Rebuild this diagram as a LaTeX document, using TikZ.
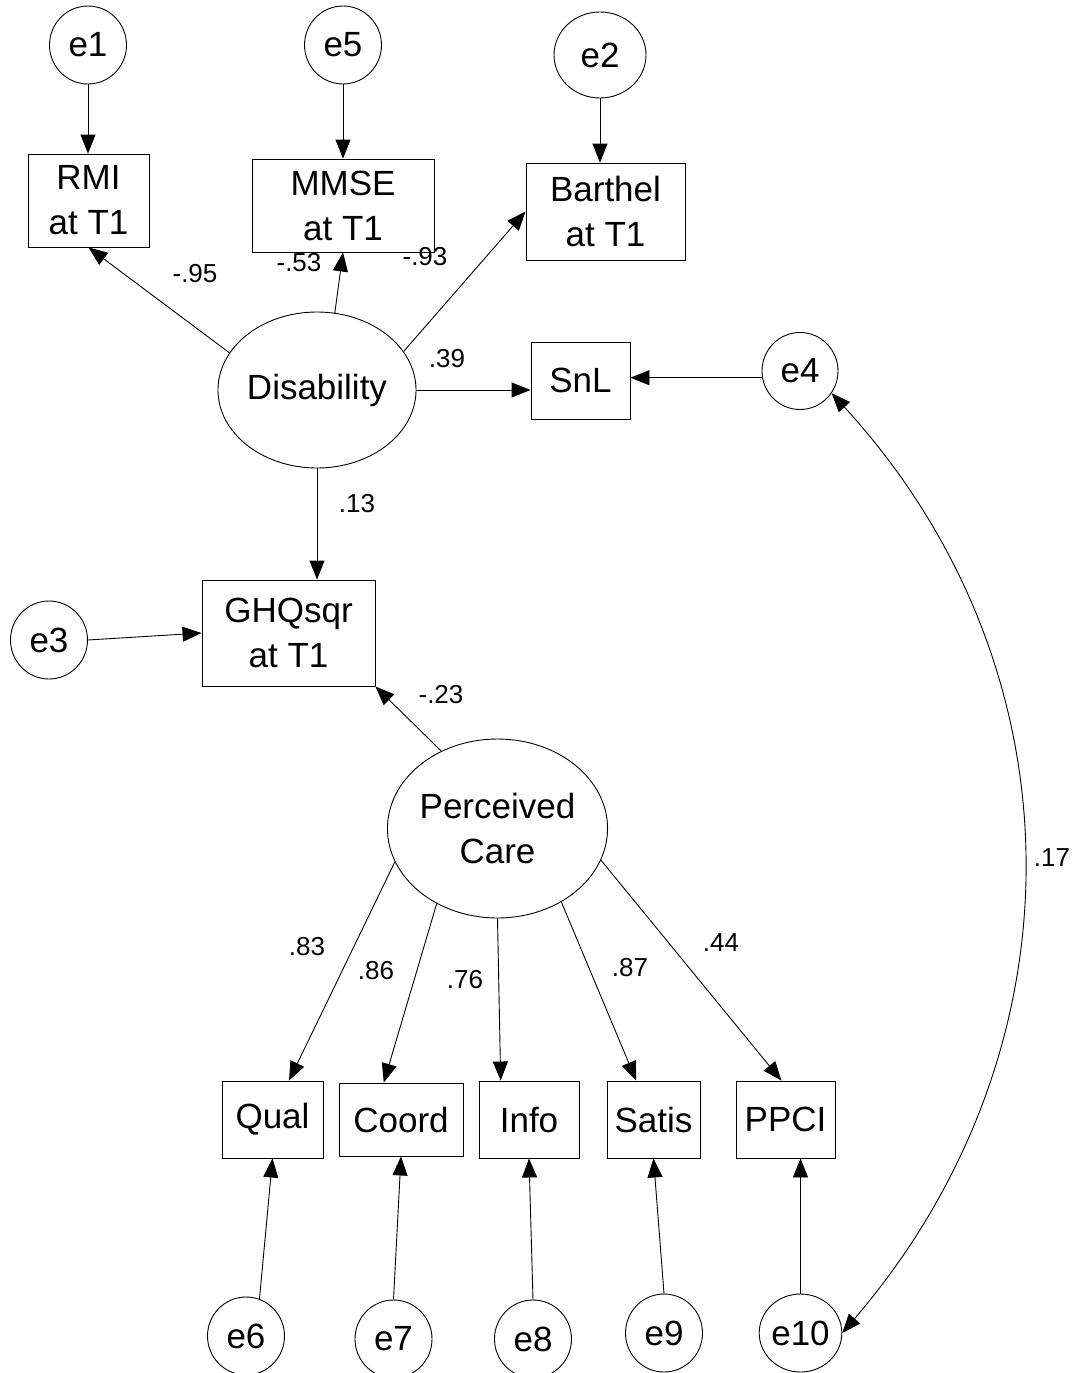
\documentclass[tikz,border=0pt]{standalone}
\usepackage{fontspec}
\setmainfont{Liberation Sans}
\usetikzlibrary{shapes.geometric,arrows.meta}
\begin{document}
\begin{tikzpicture}[x=1pt,y=-1pt,
  every node/.style={font=\fontsize{35}{45}\selectfont, inner sep=0pt},
  obs/.style={draw, line width=0.9pt, rectangle, align=center},
  lat/.style={draw, line width=0.9pt, ellipse, align=center},
  err/.style={draw, line width=0.9pt, ellipse, minimum width=77pt, minimum height=78pt},
  arr/.style={-{Triangle[length=19pt,width=15pt]}, line width=0.9pt},
  biarr/.style={{Triangle[length=19pt,width=15pt]}-{Triangle[length=19pt,width=15pt]}, line width=0.9pt},
  coef/.style={font=\fontsize{26}{30}\selectfont}]
\useasboundingbox (0,0) rectangle (1082,1373);
\clip (0,0) rectangle (1082,1373);
\fill[white] (0,0) rectangle (1082,1373);

% observed variables
\node[obs, minimum width=121pt, minimum height=93pt] (rmi) at (88.5,200.5) {RMI\\at T1};
\node[obs, minimum width=182pt, minimum height=93pt] (mmse) at (343,205.5) {MMSE\\at T1};
\node[obs, minimum width=159pt, minimum height=97pt] (barthel) at (605.5,211.5) {Barthel\\at T1};
\node[obs, minimum width=99pt, minimum height=77pt] (snl) at (580.5,380.5) {SnL};
\node[obs, minimum width=173pt, minimum height=106pt] (ghq) at (288.5,633) {GHQsqr\\at T1};
\node[obs, minimum width=101pt, minimum height=77pt] (qual) at (272.5,1119.5) {Qual};
\node[obs, minimum width=124pt, minimum height=73pt] (coord) at (401,1119.5) {Coord};
\node[obs, minimum width=100pt, minimum height=77pt] (info) at (529,1119.5) {Info};
\node[obs, minimum width=93pt, minimum height=77pt] (satis) at (653.5,1119.5) {Satis};
\node[obs, minimum width=99pt, minimum height=77pt] (ppci) at (785.5,1119.5) {PPCI};

% latent variables
\node[lat, minimum width=193pt, minimum height=156pt] (dis) at (317,390) {Disability};
\node[lat, minimum width=203pt, minimum height=179pt] (pc) at (497.5,828.5) {Perceived\\Care};

% error terms
\node[err] (e1) at (88,45) {e1};
\node[err] (e5) at (343,45) {e5};
\node[err, minimum width=92pt, minimum height=86pt] (e2) at (600,55) {e2};
\node[err, minimum width=76pt, minimum height=77pt] (e4) at (800,371) {e4};
\node[err] (e3) at (49,640) {e3};
\node[err] (e6) at (246,1336) {e6};
\node[err] (e7) at (393.5,1339) {e7};
\node[err] (e8) at (533,1339) {e8};
\node[err] (e9) at (664,1333) {e9};
\node[err] (e10) at (800.5,1333) {e10};

% error arrows
\draw[arr] (e1.south) -- (e1.south |- rmi.north);
\draw[arr] (e5.south) -- (e5.south |- mmse.north);
\draw[arr] (e2.south) -- (e2.south |- barthel.north);
\draw[arr] (e4.190) -- (e4.190 -| snl.east);
\draw[arr] (e3.east) -- (ghq.west);
\draw[arr] (e6.70) -- (qual.south);
\draw[arr] (e7.north) -- (coord.south);
\draw[arr] (e8.north) -- (info.south);
\draw[arr] (e9.north) -- (satis.south);
\draw[arr] (e10.north) -- (e10.north |- ppci.south);

% structural paths
\draw[arr] (dis.157) -- (rmi.south);
\draw[arr] (dis.77) -- (mmse.south);
\draw[arr] (dis.24) -- (barthel.west);
\draw[arr] (dis.east) -- (dis.east -| snl.west);
\draw[arr] (dis.south) -- (dis.south |- ghq.north);
\draw[arr] (pc.126) -- (ghq.south east);
\draw[arr] (pc.198) -- (qual.67);
\draw[arr] (pc.231) -- (coord.115);
\draw[arr] (pc.south) -- (info.126);
\draw[arr] (pc.311) -- (satis.114);
\draw[arr] (pc.343) -- (ppci.96);

% covariance
\draw[biarr] (e4.-35) .. controls (1085,670) and (1085,1050) .. (e10.east);

% coefficients
\node[coef] (c1) at (195,274) {-.95};
\node[coef] (c2) at (299,263) {-.53};
\node[coef] (c3) at (425,257) {-.93};
\node[coef] (c4) at (447,359) {.39};
\node[coef] (c5) at (357,504) {.13};
\node[coef] (c6) at (441,695) {-.23};
\node[coef] (c7) at (307,947) {.83};
\node[coef] (c8) at (376,971) {.86};
\node[coef] (c9) at (465,980) {.76};
\node[coef] (c10) at (630,968) {.87};
\node[coef] (c11) at (721,943) {.44};
\node[coef] (c12) at (1052,858) {.17};
\end{tikzpicture}
\end{document}
